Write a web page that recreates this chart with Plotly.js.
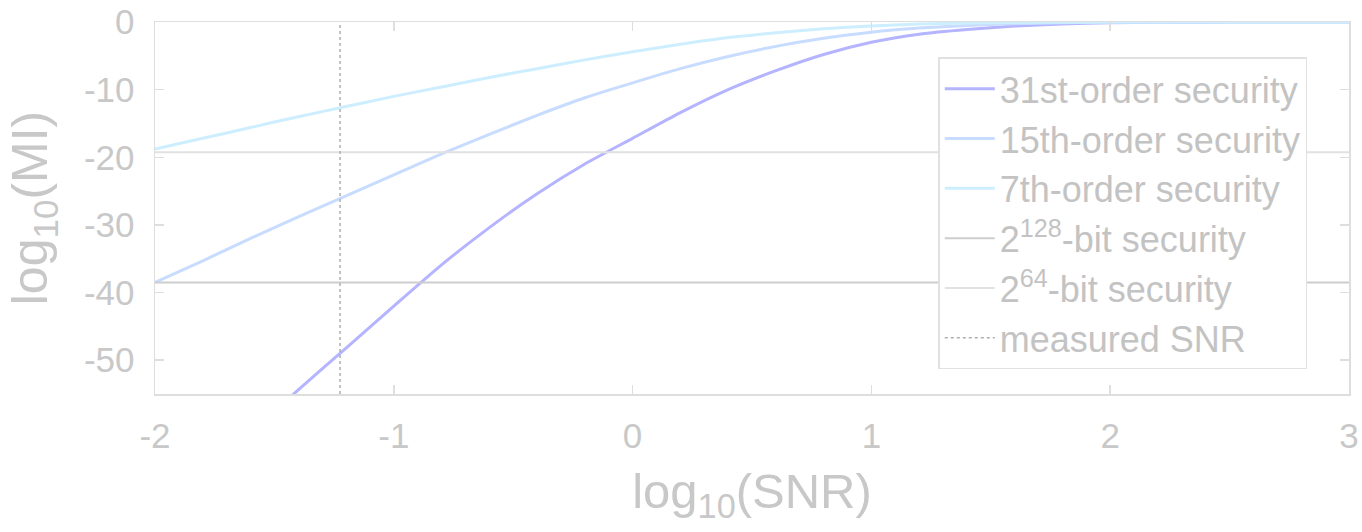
<!DOCTYPE html>
<html>
<head>
<meta charset="utf-8">
<script src="https://cdn.plot.ly/plotly-3.0.1.min.js"></script>
<style>html,body{margin:0;padding:0;background:#fff;}#chart{width:1362px;height:532px;}</style>
</head>
<body>
<div id="chart"></div>
<script>
// log10(SNR) sample points
var snr = [-2.0,-1.8,-1.6,-1.4,-1.2,-1.0,-0.8,-0.6,-0.4,-0.2,0.0,0.2,0.4,0.6,0.8,1.0,1.2,1.4,1.6,1.8,2.0,2.2,2.4,2.6,2.8,3.0];
// log10(MI) per masking order
var mi31 = [-73.0,-66.8,-60.6,-54.4,-48.2,-42.0,-35.9,-30.4,-25.4,-21.0,-17.2,-13.4,-10.0,-7.2,-4.8,-3.0,-1.8,-1.1,-0.6,-0.3,-0.12,-0.05,-0.02,-0.01,0.0,0.0];
var mi15 = [-38.5,-35.3,-32.0,-28.8,-25.7,-22.6,-19.5,-16.6,-13.8,-11.2,-9.0,-6.9,-5.1,-3.6,-2.4,-1.5,-0.9,-0.5,-0.25,-0.12,-0.05,-0.02,-0.01,0.0,0.0,0.0];
var mi7  = [-18.8,-17.2,-15.6,-14.0,-12.5,-11.0,-9.6,-8.2,-6.9,-5.6,-4.4,-3.3,-2.3,-1.6,-1.0,-0.6,-0.3,-0.15,-0.07,-0.03,-0.01,0.0,0.0,0.0,0.0,0.0];
// security thresholds: log10(2^-128), log10(2^-64)
var sec128 = -38.53;
var sec64 = -19.27;
var measuredSNR = -1.225;
var xRange = [-2, 3];
var yRange = [-55, 0];
var xTicks = [-2, -1, 0, 1, 2, 3];
var yTicks = [-50, -40, -30, -20, -10, 0];
var names = ['31st-order security','15th-order security','7th-order security','2<sup>128</sup>-bit security','2<sup>64</sup>-bit security','measured SNR'];

var fontFam = 'Liberation Sans, Arial, Helvetica, sans-serif';
var txt = 'rgb(200,200,200)';
var axc = 'rgb(222,222,222)';

var traces = [
  {x: snr, y: mi31, mode:'lines', name:names[0], line:{color:'rgb(180,180,255)', width:3, shape:'spline', smoothing:0.6}},
  {x: snr, y: mi15, mode:'lines', name:names[1], line:{color:'rgb(200,220,255)', width:3, shape:'spline', smoothing:0.6}},
  {x: snr, y: mi7,  mode:'lines', name:names[2], line:{color:'rgb(205,238,255)', width:3, shape:'spline', smoothing:0.6}},
  {x: xRange, y: [sec128, sec128], mode:'lines', name:names[3], line:{color:'rgb(205,205,205)', width:2}},
  {x: xRange, y: [sec64, sec64], mode:'lines', name:names[4], line:{color:'rgb(225,225,225)', width:2}},
  {x: [measuredSNR, measuredSNR], y: yRange, mode:'lines', name:names[5], line:{color:'rgb(175,175,175)', width:1.5, dash:'dot'}}
];

var layout = {
  width:1362, height:532,
  margin:{l:155, r:13, t:22, b:138},
  paper_bgcolor:'#fff', plot_bgcolor:'#fff',
  font:{family:fontFam, color:txt, size:35},
  showlegend:true,
  legend:{x:0.656, y:0.905, xanchor:'left', yanchor:'top', bgcolor:'#fff', bordercolor:'rgb(225,225,225)', borderwidth:1.5,
          font:{family:fontFam, size:36, color:'rgb(195,195,195)'}, itemwidth:50, tracegroupgap:0},
  xaxis:{range:xRange, tickvals:xTicks, ticktext:xTicks.map(String), showgrid:false, zeroline:false,
         showline:true, linecolor:axc, linewidth:1.5, mirror:'ticks', ticks:'inside', ticklen:9, tickcolor:axc, tickwidth:1.5,
         tickfont:{size:35, color:txt}, ticklabelstandoff:10,
         title:{text:'log<sub>10</sub>(SNR)', font:{size:49, color:txt}, standoff:20}},
  yaxis:{range:yRange, tickvals:yTicks, ticktext:yTicks.map(String), showgrid:false, zeroline:false,
         showline:true, linecolor:axc, linewidth:1.5, mirror:'ticks', ticks:'inside', ticklen:9, tickcolor:axc, tickwidth:1.5,
         tickfont:{size:35, color:txt}, ticklabelstandoff:12,
         title:{text:'log<sub>10</sub>(MI)', font:{size:50, color:txt}, standoff:20}}
};

Plotly.newPlot('chart', traces, layout, {displayModeBar:false, staticPlot:true});
</script>
</body>
</html>
